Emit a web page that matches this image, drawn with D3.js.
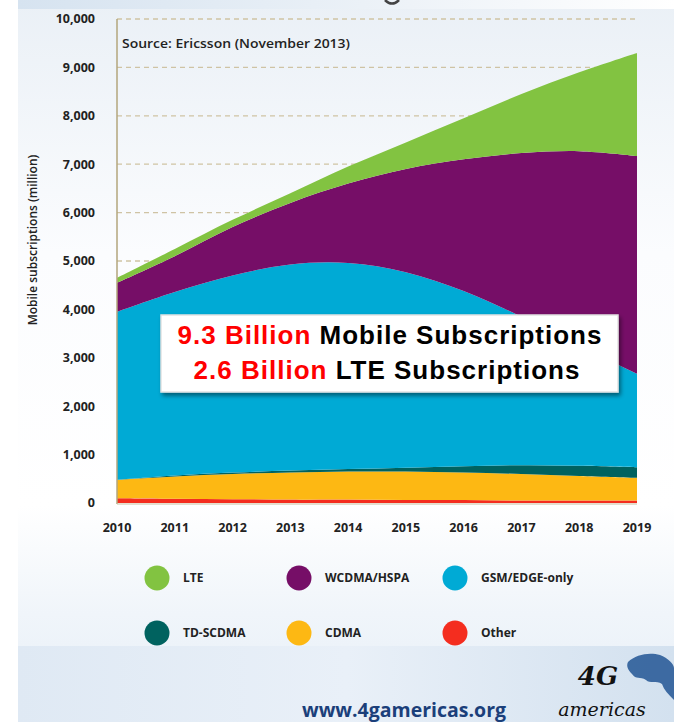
<!DOCTYPE html>
<html><head><meta charset="utf-8">
<script src="https://cdn.jsdelivr.net/npm/d3@7"></script>
<style>html,body{margin:0;padding:0;background:#fff}svg{display:block}</style>
</head><body>
<svg id="c" width="674" height="722"></svg>
<script>
const years = [2010, 2011, 2012, 2013, 2014, 2015, 2016, 2017, 2018, 2019];
const other   = [100, 90, 80, 70, 70, 60, 60, 50, 50, 50];
const cdma    = [380, 460, 520, 560, 580, 590, 570, 550, 510, 470];
const tdscdma = [0, 20, 30, 40, 50, 80, 130, 180, 210, 220];
const gsm     = [3470, 3790, 4070, 4260, 4260, 4040, 3620, 3070, 2480, 1930];
const wcdma   = [600, 740, 1000, 1270, 1640, 2130, 2720, 3380, 4020, 4500];
const lte     = [100, 150, 150, 200, 350, 550, 850, 1220, 1630, 2130];
const seriesNames = ["Other", "CDMA", "TD-SCDMA", "GSM/EDGE-only", "WCDMA/HSPA", "LTE"];
const seriesValues = [other, cdma, tdscdma, gsm, wcdma, lte];
const seriesColors = ["#f42d1f", "#fdb813", "#00625f", "#00aad5", "#760e67", "#82c341"];
const yTicks = [0, 1000, 2000, 3000, 4000, 5000, 6000, 7000, 8000, 9000, 10000];
const legendOrder = ["LTE", "WCDMA/HSPA", "GSM/EDGE-only", "TD-SCDMA", "CDMA", "Other"];

const svg = d3.select("#c");
const defs = svg.append("defs");
const bg = defs.append("linearGradient").attr("id","bg").attr("x1",0).attr("y1",0).attr("x2",0).attr("y2",1);
bg.append("stop").attr("offset","0").attr("stop-color","#eaf0f6");
bg.append("stop").attr("offset","0.35").attr("stop-color","#fbfcfe");
bg.append("stop").attr("offset","0.7").attr("stop-color","#ffffff");
bg.append("stop").attr("offset","0.85").attr("stop-color","#f0f5fa");
bg.append("stop").attr("offset","1").attr("stop-color","#e6eef7");
const bb = defs.append("linearGradient").attr("id","bb").attr("x1",0).attr("y1",0).attr("x2",1).attr("y2",0);
bb.append("stop").attr("offset","0").attr("stop-color","#dfe9f4");
bb.append("stop").attr("offset","0.5").attr("stop-color","#e9f0f8");
bb.append("stop").attr("offset","1").attr("stop-color","#d3e1ef");
const tb = defs.append("linearGradient").attr("id","tb").attr("x1",0).attr("y1",0).attr("x2",1).attr("y2",0);
tb.append("stop").attr("offset","0").attr("stop-color","#d6e3f0");
tb.append("stop").attr("offset","0.6").attr("stop-color","#eef3f8");
tb.append("stop").attr("offset","1").attr("stop-color","#ffffff");
const sh = defs.append("filter").attr("id","sh").attr("x","-10%").attr("y","-20%").attr("width","120%").attr("height","150%");
sh.append("feDropShadow").attr("dx",2).attr("dy",3).attr("stdDeviation",2).attr("flood-color","#000").attr("flood-opacity",0.45);

// background panels
svg.append("rect").attr("x",18).attr("y",0).attr("width",656).attr("height",722).attr("fill","url(#bg)");
svg.append("rect").attr("x",18).attr("y",0).attr("width",656).attr("height",9).attr("fill","url(#tb)");
svg.append("rect").attr("x",18).attr("y",646).attr("width",656).attr("height",76).attr("fill","url(#bb)");
svg.append("path").attr("d","M385,0 Q392,7 399,0").attr("fill","none").attr("stroke","#444").attr("stroke-width",2.5);

const x = d3.scaleLinear().domain([2010, 2019]).range([117, 637]);
const y = d3.scaleLinear().domain([0, 10000]).range([503, 19]);

// gridlines
svg.append("g").selectAll("line").data(yTicks.filter(d => d > 0)).join("line")
  .attr("x1", x(2010)).attr("x2", x(2019)).attr("y1", d => y(d)).attr("y2", d => y(d))
  .attr("stroke", "#cfc3a4").attr("stroke-width", 1.3).attr("stroke-dasharray", "5,4");

// stacked areas
const table = years.map((yr, i) => {
  const o = { year: yr };
  seriesNames.forEach((n, k) => o[n] = seriesValues[k][i]);
  return o;
});
const stack = d3.stack().keys(seriesNames);
const stacked = stack(table);
const area = d3.area().x(d => x(d.data.year)).y0(d => y(d[0])).y1(d => y(d[1])).curve(d3.curveCatmullRom.alpha(0.5));
svg.append("g").selectAll("path").data(stacked).join("path")
  .attr("d", area).attr("fill", (d, i) => seriesColors[i]);

// axes lines
svg.append("line").attr("x1", x(2010)).attr("x2", x(2010)).attr("y1", y(10000)).attr("y2", y(0) + 1)
  .attr("stroke", "#b3a67c").attr("stroke-width", 1.5);
svg.append("line").attr("x1", x(2010)).attr("x2", x(2019)).attr("y1", y(0) + 1).attr("y2", y(0) + 1)
  .attr("stroke", "#c9bfa0").attr("stroke-width", 1.2);

// y tick labels
const fmt = d3.format(",");
svg.append("g").selectAll("text").data(yTicks).join("text")
  .attr("x", 95).attr("y", d => y(d)).attr("dy", "0.35em").attr("text-anchor", "end")
  .attr("font-family", "Open Sans, sans-serif").attr("font-weight", 700).attr("font-size", 12.5)
  .attr("fill", "#222").text(d => fmt(d));

// x tick labels
svg.append("g").selectAll("text").data(years).join("text")
  .attr("x", d => x(d)).attr("y", 532).attr("text-anchor", "middle")
  .attr("font-family", "Open Sans, sans-serif").attr("font-weight", 700).attr("font-size", 12.5)
  .attr("fill", "#222").text(d => d);

// y axis title
svg.append("text").attr("transform", "translate(37,240) rotate(-90)").attr("text-anchor", "middle")
  .attr("font-family", "Open Sans, sans-serif").attr("font-weight", 600).attr("font-size", 12)
  .attr("fill", "#222").text("Mobile subscriptions (million)");

// source
svg.append("text").attr("x", 122).attr("y", 48)
  .attr("font-family", "Open Sans, sans-serif").attr("font-weight", 600).attr("font-size", 12)
  .attr("textLength", 228).attr("lengthAdjust", "spacingAndGlyphs")
  .attr("fill", "#222").text("Source: Ericsson (November 2013)");

// callout box
svg.append("rect").attr("x", 161).attr("y", 315).attr("width", 457).attr("height", 77)
  .attr("fill", "#ffffff").attr("stroke", "#e2e2e2").attr("stroke-width", 1.5).attr("filter", "url(#sh)");
const t1 = svg.append("text").attr("x", 390).attr("y", 344).attr("text-anchor", "middle")
  .attr("font-family", "Liberation Sans, Arial, sans-serif").attr("font-weight", 700).attr("font-size", 26)
  .attr("letter-spacing", 1);
t1.append("tspan").attr("fill", "#f00").text("9.3 Billion ");
t1.append("tspan").attr("fill", "#000").text("Mobile Subscriptions");
const t2 = svg.append("text").attr("x", 387).attr("y", 379).attr("text-anchor", "middle")
  .attr("font-family", "Liberation Sans, Arial, sans-serif").attr("font-weight", 700).attr("font-size", 26)
  .attr("letter-spacing", 1);
t2.append("tspan").attr("fill", "#f00").text("2.6 Billion ");
t2.append("tspan").attr("fill", "#000").text("LTE Subscriptions");

// legend
const legX = [157, 299, 455];
const legY = [578, 633];
const lg = svg.append("g").selectAll("g").data(legendOrder).join("g")
  .attr("transform", (d, i) => `translate(${legX[i % 3]},${legY[Math.floor(i / 3)]})`);
lg.append("circle").attr("r", 12.5).attr("fill", d => seriesColors[seriesNames.indexOf(d)]);
lg.append("text").attr("x", 26).attr("dy", "0.35em")
  .attr("font-family", "Open Sans, sans-serif").attr("font-weight", 700).attr("font-size", 12)
  .attr("fill", "#222").text(d => d);

// footer
svg.append("text").attr("x", 404).attr("y", 717).attr("text-anchor", "middle")
  .attr("font-family", "Open Sans, sans-serif").attr("font-weight", 700).attr("font-size", 19.5)
  .attr("fill", "#1b3f7a").text("www.4gamericas.org");
svg.append("path")
  .attr("d", "M628,662 C636,654 650,652 660,655 C668,658 674,664 674,668 L674,700 C668,694 664,690 662,684 C656,680 650,684 646,680 C640,676 636,680 632,674 C628,670 626,666 628,662 Z")
  .attr("fill", "#2c5d99").attr("opacity", 0.9);
svg.append("text").attr("x", 598).attr("y", 685).attr("text-anchor", "middle")
  .attr("font-family", "DejaVu Serif, serif").attr("font-style", "italic").attr("font-weight", 700).attr("font-size", 26)
  .attr("fill", "#111").text("4G");
svg.append("text").attr("x", 602).attr("y", 716).attr("text-anchor", "middle")
  .attr("font-family", "DejaVu Serif, serif").attr("font-style", "italic").attr("font-size", 19)
  .attr("fill", "#111").text("americas");
</script>
</body></html>
